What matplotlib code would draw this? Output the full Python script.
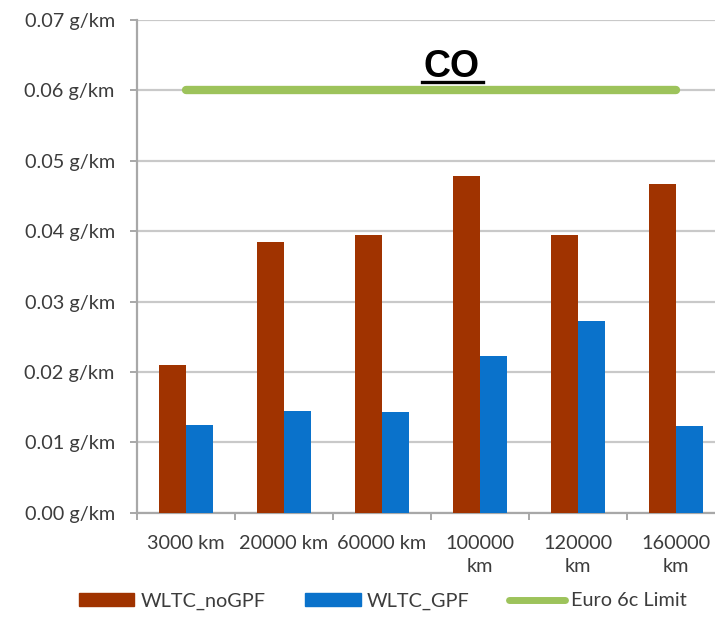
import matplotlib
matplotlib.use("Agg")
import matplotlib.pyplot as plt
from matplotlib.patches import Patch
from matplotlib.lines import Line2D
import numpy as np

categories = ["3000 km", "20000 km", "60000 km", "100000\nkm", "120000\nkm", "160000\nkm"]
wltc_nogpf = [0.0210, 0.0385, 0.0394, 0.0478, 0.0394, 0.0467]
wltc_gpf = [0.0125, 0.0145, 0.0143, 0.0223, 0.0272, 0.0123]
euro6c_limit = [0.06, 0.06, 0.06, 0.06, 0.06, 0.06]
y_ticks = [0.00, 0.01, 0.02, 0.03, 0.04, 0.05, 0.06, 0.07]
series_names = ["WLTC_noGPF", "WLTC_GPF", "Euro 6c Limit"]

c_brown = "#A03300"
c_blue = "#0A72CB"
c_green = "#9DC35B"
c_text = "#3C3C3C"
c_grid = "#C9C9C9"
c_axis = "#A8A8A8"
fs = 14.3

W, H = 715, 637
fig = plt.figure(figsize=(W / 100, H / 100), dpi=100)
x0, x1 = 137, 725
y0, y1 = 512.7, 20
ax = fig.add_axes([x0 / W, (H - y0) / H, (x1 - x0) / W, (y0 - y1) / H])

x = np.arange(len(categories))
bw = 0.28
ax.bar(x - bw / 2, wltc_nogpf, width=bw, color=c_brown, zorder=3)
ax.bar(x + bw / 2, wltc_gpf, width=bw, color=c_blue, zorder=3)
ax.plot(x, euro6c_limit, color=c_green, lw=6, solid_capstyle="round", zorder=4)

ax.set_xlim(-0.5, len(categories) - 0.5)
ax.set_ylim(0, 0.07)
ax.set_yticks(y_ticks)
ax.set_yticklabels([f"{v:.2f} g/km" for v in y_ticks])
ax.yaxis.grid(True, color=c_grid, lw=1.6, zorder=0)
ax.set_axisbelow(True)

ax.set_xticks(x)
ax.set_xticklabels(categories, linespacing=1.45)
ax.set_xticks(np.arange(-0.5, len(categories) + 0.5, 1), minor=True)
ax.tick_params(axis="x", which="major", length=0, pad=16)
ax.tick_params(axis="x", which="minor", length=5, width=1.4, color=c_axis)
ax.tick_params(axis="y", length=5, width=1.4, color=c_axis, pad=11)
ax.tick_params(labelsize=fs, labelcolor=c_text)
for lbl in ax.get_xticklabels() + ax.get_yticklabels():
    lbl.set_family("Lato")

for s in ["top", "right"]:
    ax.spines[s].set_visible(False)
for s in ["left", "bottom"]:
    ax.spines[s].set_color(c_axis)
    ax.spines[s].set_linewidth(1.6)

fig.text(452 / W, (H - 67) / H, "CO", ha="center", va="center",
         fontsize=27, fontweight="bold", family="Liberation Sans", color="black")
fig.add_artist(Line2D([422 / W, 483 / W], [(H - 82) / H] * 2, color="black", lw=2.4))

handles = [Patch(color=c_brown), Patch(color=c_blue),
           Line2D([], [], color=c_green, lw=5, solid_capstyle="round")]
fig.legend(handles, series_names, loc="center", bbox_to_anchor=(0.535, (H - 601) / H),
           ncol=3, frameon=False, handlelength=2.8, handleheight=0.6,
           handletextpad=0.3, columnspacing=2.0,
           prop={"family": "Lato", "size": fs}, labelcolor=c_text)

fig.savefig("out.png", dpi=100)
